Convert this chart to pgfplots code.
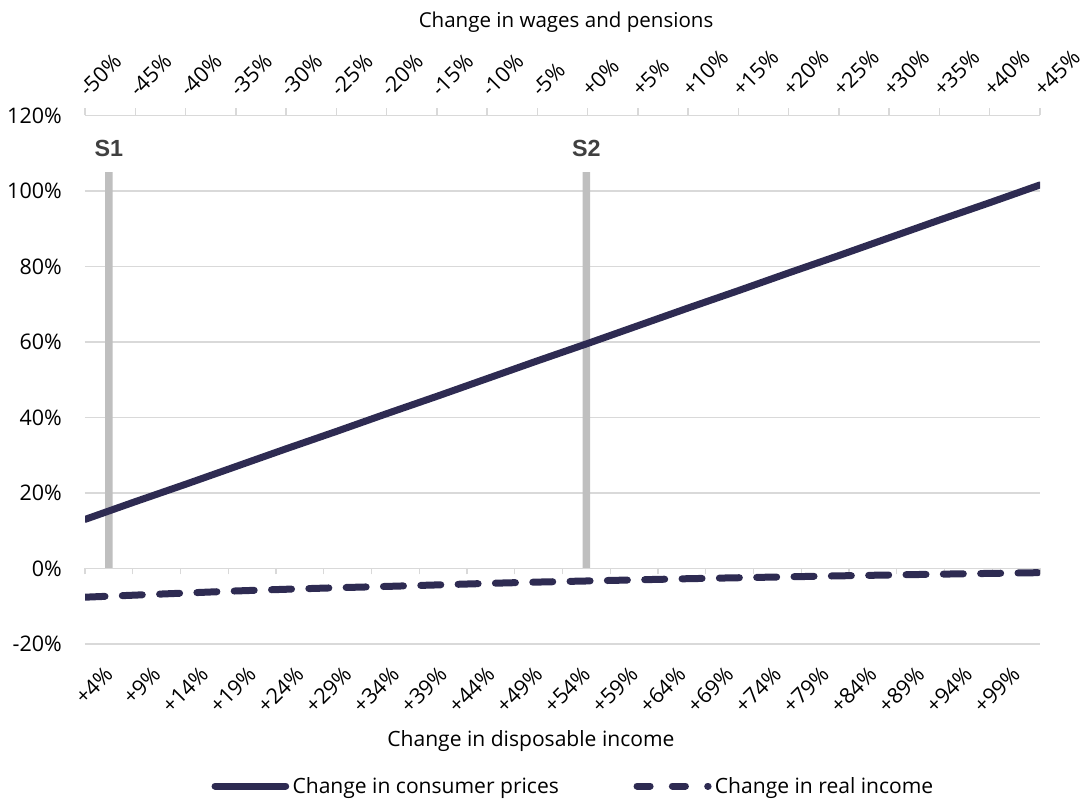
\documentclass[border=0pt]{standalone}
\usepackage{pgfplots}
\usepackage{pgfplotstable}
\pgfplotsset{compat=1.18}
\usepackage{fontspec}
\setmainfont{Open Sans}
\setsansfont{Liberation Sans}
\definecolor{navy}{HTML}{2E2B52}
\definecolor{gridc}{HTML}{D9D9D9}
\definecolor{barc}{HTML}{BFBFBF}
\definecolor{slab}{HTML}{404040}

\pgfplotstableread{
t prices real
0 13.0 -7.6
1 17.7 -7.05
2 22.3 -6.5
3 27.0 -5.95
4 31.7 -5.5
5 36.3 -5.1
6 41.0 -4.75
7 45.6 -4.35
8 50.3 -3.95
9 55.0 -3.6
10 59.6 -3.3
11 64.3 -3.0
12 69.0 -2.7
13 73.6 -2.45
14 78.3 -2.2
15 82.9 -1.95
16 87.6 -1.72
17 92.3 -1.5
18 96.9 -1.3
19 101.6 -1.1
}\linedata

\newcommand{\lblfont}{\fontsize{15.4}{18}\selectfont}
\newcommand{\tickfont}{\fontsize{16.1}{18}\selectfont}
\newcommand{\legfont}{\fontsize{15.8}{18}\selectfont}

\pgfplotsset{
  base/.style={scale only axis, width=716.25pt, height=396.4pt,
    at={(0,0)}, anchor=south west, ymin=-20, ymax=120,
    tick label style={font=\tickfont, text=black},
    label style={font=\lblfont, text=black}},
  legsolid/.style={legend image code/.code={\draw[##1] (0pt,0pt) -- (53pt,0pt);}},
  legdash/.style={legend image code/.code={\draw[##1, dash pattern=on 9.8pt off 16.7pt] (0pt,0pt) -- (53.3pt,0pt);}},
}

\begin{document}
\begin{tikzpicture}
\path[use as bounding box] (-63.75pt,-116.25pt) rectangle (751.5pt,483pt);

% main axis: grid, y labels, bottom category labels, S bars
\begin{axis}[base,
  xmin=0, xmax=20,
  axis line style={draw=none},
  major tick length=0pt,
  xtick={0.5,1.5,2.5,3.5,4.5,5.5,6.5,7.5,8.5,9.5,10.5,11.5,12.5,13.5,14.5,15.5,16.5,17.5,18.5,19.5},
  xticklabels={+4\%,+9\%,+14\%,+19\%,+24\%,+29\%,+34\%,+39\%,+44\%,+49\%,+54\%,+59\%,+64\%,+69\%,+74\%,+79\%,+84\%,+89\%,+94\%,+99\%},
  ytick={-20,0,20,40,60,80,100,120},
  yticklabels={-20\%,0\%,20\%,40\%,60\%,80\%,100\%,120\%},
  ymajorgrids, grid style={gridc, line width=1.1pt},
  xticklabel style={xshift=-4.25pt, yshift=-15.4pt, rotate=45, anchor=north east, inner sep=0pt},
  yticklabel style={xshift=-17.25pt, anchor=east, inner sep=0pt},
  xlabel={Change in disposable income},
  xlabel style={at={(axis description cs:0.4669,0)}, anchor=base, yshift=-77pt, font=\fontsize{15.8}{18}\selectfont},
]
\addplot[ybar, bar width=5.5pt, bar shift=0pt, fill=barc, draw=none,
  nodes near coords, point meta=explicit symbolic,
  every node near coord/.append style={anchor=base, inner sep=0pt, yshift=12pt,
    font=\sffamily\bfseries\fontsize{17.5}{20}\selectfont, text=slab}]
  coordinates {(0.5,105) [S1] (10.5,105) [S2]};
\coordinate (zero) at (axis cs:0,0);
\end{axis}

% category axis line at 0 with downward ticks
\begin{axis}[scale only axis, width=716.25pt, height=30pt, at={(zero)}, anchor=south west,
  xmin=0, xmax=20, ymin=0, ymax=1,
  axis x line*=bottom, axis y line=none,
  xtick={0,1,...,20}, xticklabels={},
  tick align=outside, major tick length=4.5pt,
  axis line style={gridc, line width=1.1pt},
  tick style={gridc, line width=1.1pt}]
\end{axis}

% top axis (wages) with the two lines
\begin{axis}[base,
  xmin=0, xmax=19,
  axis x line*=top, axis y line=none,
  xtick={0,1,...,19},
  xticklabels={-50\%,-45\%,-40\%,-35\%,-30\%,-25\%,-20\%,-15\%,-10\%,-5\%,+0\%,+5\%,+10\%,+15\%,+20\%,+25\%,+30\%,+35\%,+40\%,+45\%},
  tick align=outside, major tick length=5.25pt,
  axis line style={gridc, line width=1.1pt},
  tick style={gridc, line width=1.1pt},
  xticklabel style={xshift=2.5pt, yshift=7.5pt, rotate=45, anchor=south west, inner sep=0pt},
  xlabel={Change in wages and pensions},
  xlabel style={at={(axis description cs:0.5037,1)}, anchor=base, yshift=66.2pt},
  legend columns=2,
  legend style={at={(axis description cs:0.1325,-0.2687)}, anchor=west,
    draw=none, fill=none, inner sep=0pt, outer sep=0pt, font=\legfont,
    nodes={inner xsep=0pt, inner ysep=2pt},
    /tikz/every odd column/.style={column sep=2.5pt},
    /tikz/every even column/.style={column sep=56pt}},
]
\addplot[navy, line width=5.25pt, line cap=round, line join=round, legsolid]
  table[x=t, y=prices] {\linedata};
\addlegendentry{Change in consumer prices}
\addplot[navy, line width=5.25pt, line cap=round, line join=round, dash pattern=on 15pt off 13pt, legdash]
  table[x=t, y=real] {\linedata};
\addlegendentry{Change in real income}
\end{axis}
\end{tikzpicture}
\end{document}
